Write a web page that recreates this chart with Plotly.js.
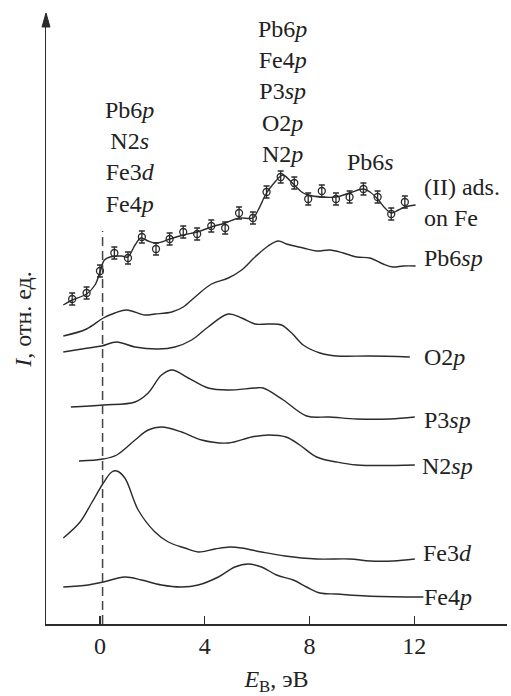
<!DOCTYPE html>
<html><head><meta charset="utf-8">
<script src="https://cdn.plot.ly/plotly-3.0.1.min.js"></script>
<style>html,body{margin:0;padding:0;background:#fff}#chart{width:511px;height:696px}</style>
</head><body><div id="chart"></div>
<script>
// (II) ads. on Fe — measured points (E, eV ; intensity, arb. units) with error bars
const adsPtsE = [-1.06,-0.51,0.0,0.55,1.07,1.60,2.14,2.66,3.18,3.71,4.25,4.78,5.31,5.84,6.36,6.90,7.42,7.95,8.47,9.01,9.53,10.06,10.6,11.12,11.64];
const adsPtsI = [325,331,353,371,366,387,375,385,392,390,398,396,411,406,432,447,441,425,433,425,427,435,427,410,422];
const adsErr  = [6,6,6,6,6,6,6,6,6,6,6,6,6,6,6,6,6,6,6,6,6,6,6,6,6];
// (II) ads. on Fe — smooth curve
const adsE = [-1.40,-1.06,-0.51,-0.19,0.0,0.17,0.38,0.83,1.06,1.34,1.56,1.84,2.10,2.35,2.67,3.18,3.71,4.25,4.78,5.31,5.84,6.04,6.36,6.68,6.90,7.0,7.42,7.70,7.95,8.47,9.01,9.53,10.06,10.31,10.60,10.88,11.12,11.39,11.64,12.05];
const adsI = [319,324,330,339,352,364,367,368,367,379,386,383,381,382,385,389,392,397,401,406,406,414,431,442,448,449,439,432,429,427,427,431,435,432,425,416,411,414,417,419];
// Pb6sp
const pbE = [-1.40,-0.51,0.13,0.57,1.02,1.72,2.10,2.74,3.18,3.63,4.26,4.90,5.41,5.92,6.42,6.81,7.12,7.76,8.27,8.78,9.29,9.80,10.31,10.81,11.19,11.58,12.05];
const pbI = [288,295,306,311,314,309,310,312,317,327,340,346,354,367,378,383,380,376,373,374,371,367,366,360,357,358,358];
// O2p
const oE = [-1.40,-0.45,0.06,0.64,1.34,2.23,2.86,3.50,4.13,4.90,5.41,5.92,6.42,6.93,7.32,7.76,8.40,9.03,10.31,11.83];
const oI = [272,276,278,282,277,275,277,284,297,310,306,300,300,299,291,279,271,268,268,267];
// P3sp
const pE = [-1.11,0.13,1.34,1.84,2.35,2.76,3.37,4.13,4.90,5.92,6.23,7.0,7.89,8.78,9.80,11.07,12.02];
const pI = [217,219,222,231,249,254,246,236,234,236,236,224,208,207,205,205,207];
// N2sp
const nE = [-0.80,0.13,0.64,1.34,1.84,2.35,3.12,3.88,4.90,5.79,6.45,7.10,7.63,8.27,9.03,9.80,12.02];
const nI = [163,165,169,184,194,197,192,184,181,187,189,187,179,167,162,159,159];
// Fe3d
const fdE = [-1.40,-0.76,-0.32,0.13,0.45,0.64,0.95,1.46,2.10,2.61,3.24,3.75,4.39,4.96,5.41,6.17,7.06,8.27,9.54,10.31,11.19,12.02];
const fdI = [86,102,121,141,152,153,146,114,92,82,76,72,75,77,76,72,68,65,65,63,63,65];
// Fe4p
const fpE = [-1.40,-0.45,0.13,0.95,1.59,2.35,3.12,3.75,4.52,5.15,5.66,6.17,6.74,7.38,7.89,8.40,9.03,10.18,12.02,12.35];
const fpI = [37,39,42,47,44,39,37,39,47,57,60,57,49,44,37,31,30,28,27,27];
// Fermi level marker (dashed)
const fermiE = 0.1;
const fermiTop = 393;
// axis ticks
const tickVals = [0,4,8,12];
const tickText = ['0','4','8','12'];

const LC = '#2b2b2b';
const FONT = '"Liberation Serif", "Times New Roman", Times, serif';
const FS = 24;
function curve(x,y){return {x:x,y:y,mode:'lines',type:'scatter',line:{color:LC,width:1.4,shape:'spline',smoothing:1},hoverinfo:'skip',showlegend:false};}

const traces = [
  curve(adsE,adsI), curve(pbE,pbI), curve(oE,oI), curve(pE,pI), curve(nE,nI), curve(fdE,fdI), curve(fpE,fpI),
  {x:adsPtsE,y:adsPtsI,mode:'markers',type:'scatter',showlegend:false,
   marker:{symbol:'circle-open',size:7,color:LC,line:{width:1.3,color:LC}},
   error_y:{type:'data',array:adsErr,visible:true,color:LC,thickness:1.3,width:3}},
  {x:[fermiE,fermiE],y:[0,fermiTop],mode:'lines',type:'scatter',showlegend:false,line:{color:'#444',width:1.5,dash:'9px,5px'}}
];

function lab(x,y,t,anchor){return {x:x,y:y,xref:'x',yref:'y',text:t,showarrow:false,xanchor:anchor||'left',yanchor:'middle',align:anchor==='center'?'center':'left',font:{family:FONT,size:FS,color:'#222'}};}

const annotations = [
  lab(12.30,422,'(II) ads.<br>on Fe'),
  lab(12.30,366,'Pb6<i>sp</i>'),
  lab(12.30,267,'O2<i>p</i>'),
  lab(12.28,204,'P3<i>sp</i>'),
  lab(12.22,158,'N2<i>sp</i>'),
  lab(12.25,71,'Fe3<i>d</i>'),
  lab(12.30,27,'Fe4<i>p</i>'),
  lab(10.34,462,'Pb6<i>s</i>','center'),
  lab(1.16,467,'Pb6<i>p</i><br>N2<i>s</i><br>Fe3<i>d</i><br>Fe4<i>p</i>','center'),
  lab(6.95,533,'Pb6<i>p</i><br>Fe4<i>p</i><br>P3<i>sp</i><br>O2<i>p</i><br>N2<i>p</i>','center')
];

const layout = {
  width:511,height:696,
  margin:{l:46,r:4,t:14,b:72},
  paper_bgcolor:'#fff',plot_bgcolor:'#fff',
  showlegend:false,
  font:{family:FONT,size:FS,color:'#222'},
  xaxis:{range:[-2.06,15.54],showgrid:false,zeroline:false,showline:true,linecolor:LC,linewidth:1.5,
         ticks:'inside',ticklen:8,tickwidth:1.3,tickcolor:LC,tickvals:tickVals,ticktext:tickText,
         tickfont:{family:FONT,size:FS,color:'#222'},
         title:{text:'<i>E</i><sub>В</sub>, эВ',font:{family:FONT,size:FS,color:'#222'},standoff:18}},
  yaxis:{range:[0,610],showgrid:false,zeroline:false,showline:true,linecolor:LC,linewidth:1.5,
         showticklabels:false,ticks:'',
         title:{text:'<i>I</i>, отн. ед.',font:{family:FONT,size:FS,color:'#222'},standoff:6}},
  shapes:[{type:'path',xref:'paper',yref:'paper',path:'M -0.0087,0.9787 L 0,1.0016 L 0.0087,0.9787 Z',fillcolor:LC,line:{color:LC,width:1}}],
  annotations:annotations
};
Plotly.newPlot('chart',traces,layout,{staticPlot:true,displayModeBar:false});
</script></body></html>
